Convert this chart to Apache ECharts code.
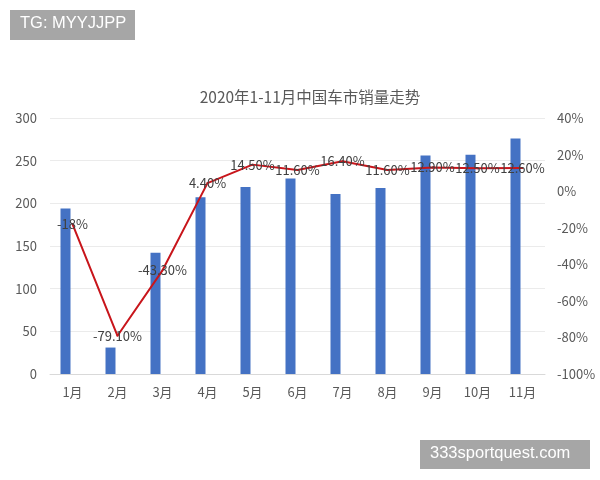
<!DOCTYPE html>
<html>
<head>
<meta charset="utf-8">
<script src="https://cdn.jsdelivr.net/npm/echarts@6/dist/echarts.min.js"></script>
<style>html,body{margin:0;padding:0;background:#fff}#c{width:600px;height:480px}</style>
</head>
<body>
<div id="c"></div>
<script>
const categories = ['1月','2月','3月','4月','5月','6月','7月','8月','9月','10月','11月'];
const sales = [194, 31, 142, 207, 219, 229, 211, 218, 256, 257, 276];
const growth = [-18, -79.1, -43.3, 4.4, 14.5, 11.6, 16.4, 11.6, 12.9, 12.5, 12.6];
const growthLabels = ['-18%','-79.10%','-43.30%','4.40%','14.50%','11.60%','16.40%','11.60%','12.90%','12.50%','12.60%'];
const titleText = '2020年1-11月中国车市销量走势';

const FONT = '"Noto Sans CJK SC", "Noto Sans", sans-serif';
const chart = echarts.init(document.getElementById('c'));
chart.setOption({
  animation: false,
  textStyle: { fontFamily: FONT },
  title: {
    text: titleText, left: 305, top: 84, textAlign: 'center',
    textStyle: { fontSize: 15.5, fontWeight: 'normal', color: '#595959', fontFamily: FONT }
  },
  grid: { left: 50, right: 55, top: 118, bottom: 106, containLabel: false },
  xAxis: {
    type: 'category', data: categories,
    axisLine: { show: true, lineStyle: { color: '#d9d9d9' } },
    axisTick: { show: false },
    axisLabel: { color: '#595959', fontSize: 13, margin: 12, fontFamily: FONT }
  },
  yAxis: [
    {
      type: 'value', min: 0, max: 300, interval: 50,
      axisLine: { show: false }, axisTick: { show: false },
      axisLabel: { color: '#595959', fontSize: 13, margin: 13, fontFamily: FONT },
      splitLine: { lineStyle: { color: '#ebebeb' } }
    },
    {
      type: 'value', min: -100, max: 40, interval: 20,
      axisLine: { show: false }, axisTick: { show: false },
      axisLabel: { color: '#595959', fontSize: 13, margin: 12, formatter: '{value}%', fontFamily: FONT },
      splitLine: { show: false }
    }
  ],
  series: [
    {
      type: 'bar', data: sales, barWidth: 10, barGap: '40%',
      itemStyle: { color: '#4472c4' }
    },
    {
      type: 'bar', data: categories.map(() => null), barWidth: 10
    },
    {
      type: 'line', yAxisIndex: 1, data: growth, smooth: false,
      symbol: 'circle', symbolSize: 2, showSymbol: true, showAllSymbol: true, z: 5,
      itemStyle: { color: '#c8151b' },
      lineStyle: { color: '#c8151b', width: 2 },
      label: {
        show: true, position: 'inside', color: '#404040', fontSize: 13,
        fontFamily: FONT,
        formatter: p => growthLabels[p.dataIndex]
      }
    }
  ],
  graphic: [
    {
      type: 'rect', left: 10, top: 10, shape: { width: 125, height: 30 },
      style: { fill: '#a6a6a6' }
    },
    {
      type: 'text', left: 20, top: 15,
      style: { text: 'TG: MYYJJPP', fill: '#ffffff', fontSize: 16.5, fontFamily: '"Liberation Sans", Arial, sans-serif' }
    },
    {
      type: 'rect', left: 420, top: 440, shape: { width: 170, height: 29 },
      style: { fill: '#a6a6a6' }
    },
    {
      type: 'text', left: 430, top: 445,
      style: { text: '333sportquest.com', fill: '#ffffff', fontSize: 16.5, fontFamily: '"Liberation Sans", Arial, sans-serif' }
    }
  ]
});
</script>
</body>
</html>
